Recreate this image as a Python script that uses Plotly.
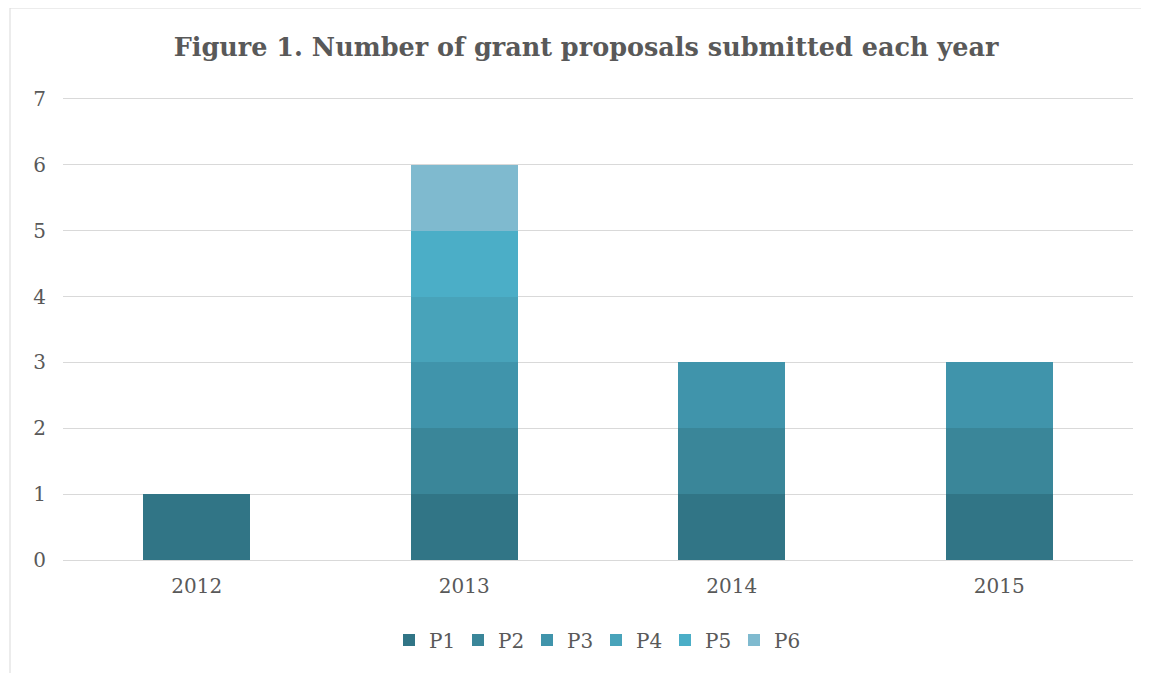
import plotly.graph_objects as go

years = ["2012", "2013", "2014", "2015"]
series_names = ["P1", "P2", "P3", "P4", "P5", "P6"]
P1 = [1, 1, 1, 1]
P2 = [0, 1, 1, 1]
P3 = [0, 1, 1, 1]
P4 = [0, 1, 0, 0]
P5 = [0, 1, 0, 0]
P6 = [0, 1, 0, 0]
series_values = [P1, P2, P3, P4, P5, P6]
colors = ["#317586", "#3a8699", "#4094ab", "#48a3ba", "#4baec7", "#7fbacf"]

fig = go.Figure()
for name, vals, c in zip(series_names, series_values, colors):
    fig.add_trace(go.Bar(x=years, y=vals, name=name, marker=dict(color=c, line=dict(width=0))))

# page body has an 8px margin, so work in figure-local coordinates
W, H = 1141, 665
l, r, t, b = 55, 16, 91, 113
pw, ph = W - l - r, H - t - b
y0px = H - b  # local y of the zero line

font = "DejaVu Serif"
fig.update_layout(
    width=W, height=H,
    barmode="stack", bargap=0.6,
    margin=dict(l=l, r=r, t=t, b=b),
    paper_bgcolor="white", plot_bgcolor="white",
    font=dict(family=font, color="#595959", size=20),
    title=dict(text="<b>Figure 1. Number of grant proposals submitted each year</b>",
               x=578 / W, xanchor="center", y=1 - 39 / H, yanchor="middle",
               font=dict(family=font, size=25.5, color="#595959")),
    xaxis=dict(showgrid=False, showline=True, mirror=True, linecolor="#d9d9d9", linewidth=1,
               ticks="", tickfont=dict(size=20), ticklabelstandoff=8),
    yaxis=dict(range=[0, 7], dtick=1, gridcolor="#d9d9d9", gridwidth=1,
               zeroline=True, zerolinecolor="#d9d9d9", zerolinewidth=1,
               showline=False, ticks="", tickfont=dict(size=20), ticklabelstandoff=16),
    legend=dict(orientation="h", x=(588 - l) / pw, xanchor="center",
                y=(y0px - 632) / ph, yanchor="middle",
                font=dict(size=20), traceorder="normal", itemwidth=30,
                entrywidth=24, entrywidthmode="pixels"),
    showlegend=True,
    shapes=[dict(type="rect", xref="paper", yref="paper",
                 x0=(2 - l) / pw, x1=(1140 - l) / pw,
                 y0=(y0px - 680) / ph, y1=(y0px - 0) / ph,
                 line=dict(color="#d9d9d9", width=1), fillcolor="rgba(0,0,0,0)", layer="below")],
)
fig.write_html("out.html")
